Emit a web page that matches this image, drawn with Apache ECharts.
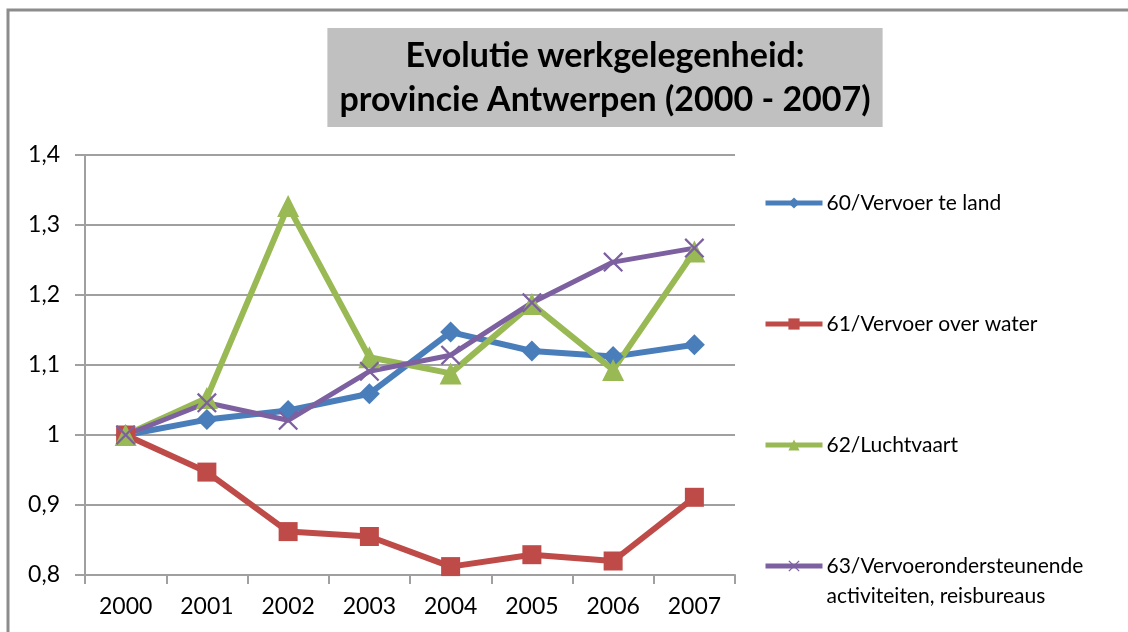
<!DOCTYPE html>
<html>
<head>
<meta charset="utf-8">
<title>Evolutie werkgelegenheid: provincie Antwerpen (2000 - 2007)</title>
<script src="https://cdn.jsdelivr.net/npm/echarts@6/dist/echarts.min.js"></script>
<style>
  html, body { margin: 0; padding: 0; background: #ffffff; }
  #chart { width: 1128px; height: 632px; }
</style>
</head>
<body>
<div id="chart"></div>
<script>
// Years on the category axis
var years = ['2000', '2001', '2002', '2003', '2004', '2005', '2006', '2007'];

// Employment index per sector (2000 = 1)
var vervoerTeLand = [1.000, 1.022, 1.035, 1.059, 1.147, 1.120, 1.112, 1.129];
var vervoerOverWater = [1.000, 0.947, 0.862, 0.855, 0.812, 0.829, 0.820, 0.911];
var luchtvaart = [1.000, 1.053, 1.327, 1.111, 1.088, 1.187, 1.093, 1.262];
var vervoerondersteunend = [1.000, 1.046, 1.021, 1.091, 1.114, 1.189, 1.247, 1.267];

// Series names as shown in the legend
var names = [
  '60/Vervoer te land',
  '61/Vervoer over water',
  '62/Luchtvaart',
  '63/Vervoerondersteunende\nactiviteiten, reisbureaus'
];

// Value-axis tick labels (decimal comma)
var yTicks = ['0,8', '0,9', '1', '1,1', '1,2', '1,3', '1,4'];

var FONT = 'Lato, "Open Sans", sans-serif';
var colors = ['#4A7EBB', '#BE4B48', '#98B954', '#7D60A0'];

// Thin "x" marker outline
var crossPath = 'path://M0,1.6 L1.6,0 L10,8.4 L18.4,0 L20,1.6 L11.6,10 L20,18.4 L18.4,20 L10,11.6 L1.6,20 L0,18.4 L8.4,10 Z';

function lineSeries(name, data, color, symbol, size, width) {
  return {
    name: name,
    type: 'line',
    data: data,
    symbol: symbol,
    symbolSize: size,
    showSymbol: true,
    lineStyle: { color: color, width: width },
    itemStyle: { color: color, borderWidth: 0 },
    emphasis: { disabled: true },
    animation: false
  };
}

// One legend block per series; the two-line entry gets an empty leading
// line so its first line sits level with the icon.
function legendFor(name, top, twoLine) {
  return {
    data: [name],
    orient: 'vertical',
    left: 763,
    top: top,
    padding: 0,
    itemWidth: 57,
    itemHeight: 14,
    itemGap: 0,
    selectedMode: false,
    lineStyle: { width: 5 },
    formatter: twoLine ? function (n) { return '\n' + n; } : '{name}',
    textStyle: {
      fontFamily: FONT,
      fontSize: 21,
      color: '#000000',
      lineHeight: 30,
      padding: [0, 0, 0, -1]
    }
  };
}

var chart = echarts.init(document.getElementById('chart'), null, { renderer: 'canvas' });

chart.setOption({
  backgroundColor: '#ffffff',
  color: colors,
  title: {
    text: 'Evolutie werkgelegenheid:\nprovincie Antwerpen (2000 - 2007)',
    left: 593,
    top: 28,
    textAlign: 'center',
    backgroundColor: '#C0C0C0',
    padding: [6, 12, 5, 12],
    textStyle: {
      fontFamily: FONT,
      fontWeight: 'bold',
      fontSize: 34,
      lineHeight: 44,
      color: '#000000'
    }
  },
  legend: [
    legendFor(names[0], 188),
    legendFor(names[1], 309),
    legendFor(names[2], 430),
    legendFor(names[3], 521, true)
  ],
  grid: {
    left: 85,
    right: 393,
    top: 155,
    bottom: 57,
    containLabel: false
  },
  xAxis: {
    type: 'category',
    data: years,
    boundaryGap: true,
    axisLine: { show: true, lineStyle: { color: '#A0A0A0', width: 2 } },
    axisTick: { show: true, length: 9, alignWithLabel: false, lineStyle: { color: '#A0A0A0', width: 2 } },
    axisLabel: { fontFamily: FONT, fontSize: 23, color: '#000000', margin: 20 },
    splitLine: { show: false }
  },
  yAxis: {
    type: 'value',
    min: 0.8,
    max: 1.4,
    interval: 0.1,
    axisLine: { show: true, lineStyle: { color: '#A0A0A0', width: 2 } },
    axisTick: { show: true, length: 10, inside: false, lineStyle: { color: '#A0A0A0', width: 2 } },
    axisLabel: {
      fontFamily: FONT,
      fontSize: 23,
      color: '#000000',
      margin: 25,
      formatter: function (v) {
        var i = Math.round((v - 0.8) * 10);
        return yTicks[i];
      }
    },
    splitLine: { show: true, lineStyle: { color: '#A0A0A0', width: 2 } }
  },
  graphic: [
    {
      type: 'polyline',
      silent: true,
      shape: { points: [[8, 632], [8, 10], [1128, 10]] },
      style: { stroke: '#8C8C8C', lineWidth: 3, fill: null }
    }
  ],
  series: [
    lineSeries(names[0], vervoerTeLand, colors[0], 'diamond', 21, 6),
    lineSeries(names[1], vervoerOverWater, colors[1], 'rect', 19, 6),
    lineSeries(names[2], luchtvaart, colors[2], 'triangle', 22, 6),
    lineSeries(names[3], vervoerondersteunend, colors[3], crossPath, 20, 5)
  ]
});
</script>
</body>
</html>
